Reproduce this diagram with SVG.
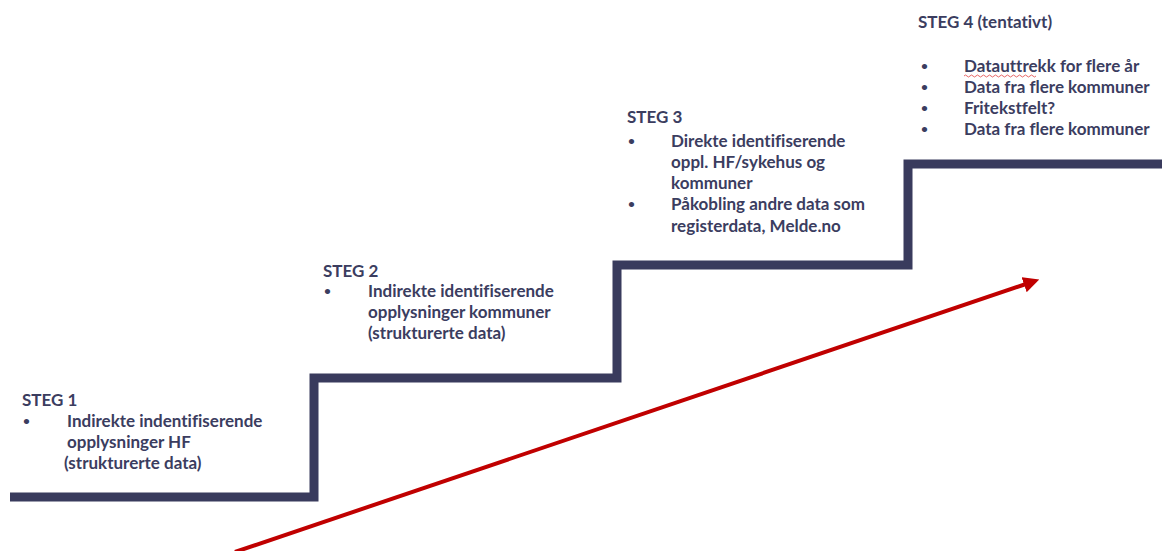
<svg xmlns="http://www.w3.org/2000/svg" width="1162" height="551" viewBox="0 0 1162 551">
<style>
text{font-family:Lato,"Open Sans","Liberation Sans",sans-serif;font-weight:bold;font-size:17px;fill:#3b3d5f;font-variant-ligatures:none}
.b{font-size:12px}
</style>
<defs>
<marker id="ah" markerWidth="4" markerHeight="4" refX="0.5" refY="2" orient="auto" markerUnits="strokeWidth">
<path d="M0,0 L4,2 L0,4 Z" fill="#c00000"/>
</marker>
</defs>
<rect width="1162" height="551" fill="#fff"/>
<g id="connectors">
<path id="stairs" d="M10,497 H314 V378 H617 V265 H908 V164 H1162" fill="none" stroke="#393b5d" stroke-width="9"/>
<line id="arrow" x1="235" y1="552" x2="1026" y2="284" stroke="#c00000" stroke-width="4" marker-end="url(#ah)"/>
</g>
<g id="steg1">
<text x="22" y="406">STEG 1</text>
<text class="b" x="23" y="425">•</text>
<text x="67" y="427">Indirekte indentifiserende</text>
<text x="67" y="448">opplysninger HF</text>
<text x="64" y="469">(strukturerte data)</text>
</g>
<g id="steg2">
<text x="323" y="277">STEG 2</text>
<text class="b" x="324" y="295">•</text>
<text x="368" y="297">Indirekte identifiserende</text>
<text x="368" y="318">opplysninger kommuner</text>
<text x="368" y="339">(strukturerte data)</text>
</g>
<g id="steg3">
<text x="627" y="123">STEG 3</text>
<text class="b" x="628" y="145">•</text>
<text x="671" y="147">Direkte identifiserende</text>
<text x="671" y="168">oppl. HF/sykehus og</text>
<text x="671" y="189">kommuner</text>
<text class="b" x="628" y="208">•</text>
<text x="671" y="210">Påkobling andre data som</text>
<text x="671" y="232">registerdata, Melde.no</text>
</g>
<g id="steg4">
<text x="918" y="28">STEG 4 (tentativt)</text>
<text class="b" x="921" y="70">•</text>
<text x="964" y="72">Datauttrekk for flere år</text>
<path d="M964,76 q1.5,-2 3,0 t3,0 t3,0 t3,0 t3,0 t3,0 t3,0 t3,0 t3,0 t3,0 t3,0 t3,0 t3,0 t3,0 t3,0 t3,0 t3,0 t3,0 t3,0 t3,0 t3,0 t3,0 t3,0 t3,0" fill="none" stroke="#e04040" stroke-width="0.8"/>
<text class="b" x="921" y="91">•</text>
<text x="964" y="93">Data fra flere kommuner</text>
<text class="b" x="921" y="112">•</text>
<text x="964" y="114">Fritekstfelt?</text>
<text class="b" x="921" y="133">•</text>
<text x="964" y="135">Data fra flere kommuner</text>
</g>
</svg>
